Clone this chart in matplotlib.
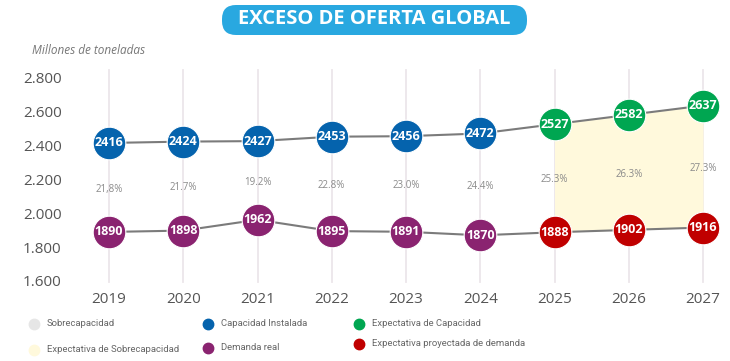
import matplotlib
matplotlib.use("Agg")
import matplotlib.pyplot as plt
from matplotlib.patches import FancyBboxPatch

years = [2019, 2020, 2021, 2022, 2023, 2024, 2025, 2026, 2027]
capacity = [2416, 2424, 2427, 2453, 2456, 2472, 2527, 2582, 2637]
demand = [1890, 1898, 1962, 1895, 1891, 1870, 1888, 1902, 1916]
overcap = ["21,8%", "21.7%", "19.2%", "22.8%", "23.0%", "24.4%", "25.3%", "26.3%", "27.3%"]
first_forecast = 2025
y_ticks = [1600, 1800, 2000, 2200, 2400, 2600, 2800]
y_tick_labels = ["1.600", "1.800", "2.000", "2.200", "2.400", "2.600", "2.800"]

BLUE = "#0563ad"
PURPLE = "#8a2370"
GREEN = "#00a651"
RED = "#c00000"
FILL = "#fff9dc"
LINE = "#7b7b7b"
TXT = "#555555"

plt.rcParams["font.family"] = ["Open Sans", "DejaVu Sans"]
NARROW = ["Roboto", "DejaVu Sans"]

fig = plt.figure(figsize=(7.3, 3.61), dpi=100)

# overlay in pixel coordinates for the title badge
over = fig.add_axes([0, 0, 1, 1], zorder=-1)
over.set_xlim(0, 730)
over.set_ylim(361, 0)
over.axis("off")
over.add_patch(FancyBboxPatch((222, 5), 305, 30, boxstyle="round,pad=0,rounding_size=14",
                              facecolor="#29a8e0", edgecolor="none"))
over.text(374, 19.5, "EXCESO DE OFERTA GLOBAL", fontsize=14.5, fontweight="bold",
          color="white", ha="center", va="center")

ax = fig.add_axes([109 / 730, 1 - 281 / 361, 594 / 730, 203 / 361])
ax.set_xlim(2019, 2027)
ax.set_ylim(1600, 2800)
ax.patch.set_alpha(0)
for s in ax.spines.values():
    s.set_visible(False)

# vertical guide lines
for yr in years:
    ax.plot([yr, yr], [1595, 2850], color="#ece6ea", lw=1.3, zorder=0, clip_on=False)

# forecast band
fc = [i for i, yr in enumerate(years) if yr >= first_forecast]
ax.fill_between([years[i] for i in fc], [demand[i] for i in fc], [capacity[i] for i in fc],
                color=FILL, lw=0, zorder=1)

ax.plot(years, capacity, color=LINE, lw=1.5, zorder=2, clip_on=False)
ax.plot(years, demand, color=LINE, lw=1.5, zorder=2, clip_on=False)

for yr, c, d, p in zip(years, capacity, demand, overcap):
    cc = GREEN if yr >= first_forecast else BLUE
    dc = RED if yr >= first_forecast else PURPLE
    ax.plot(yr, c, "o", ms=23.5, color=cc, mec="white", mew=0.8, zorder=3, clip_on=False)
    ax.plot(yr, d, "o", ms=23.5, color=dc, mec="white", mew=0.8, zorder=3, clip_on=False)
    ax.text(yr, c, str(c), color="white", fontsize=9, fontweight="bold",
            ha="center", va="center", zorder=4)
    ax.text(yr, d, str(d), color="white", fontsize=9, fontweight="bold",
            ha="center", va="center", zorder=4)
    ax.text(yr, (c + d) / 2 - 10, p, color="#8a8a8a", fontsize=7,
            ha="center", va="center", zorder=4)

ax.set_xticks(years)
ax.set_xticklabels([str(y) for y in years])
ax.set_yticks(y_ticks)
ax.set_yticklabels(y_tick_labels)
ax.tick_params(axis="x", length=0, pad=8, labelsize=11, labelcolor=TXT)
ax.tick_params(axis="y", length=0, pad=34, labelsize=11, labelcolor=TXT)

fig.text(32 / 730, 1 - 50 / 361, "Millones de toneladas", fontsize=8.5, style="italic",
         color="#777777", ha="left", va="center")

# legend
legend = [
    (34, 324, "#e6e6e6", "Sobrecapacidad"),
    (34, 350, FILL, "Expectativa de Sobrecapacidad"),
    (208, 324, BLUE, "Capacidad Instalada"),
    (208, 348, PURPLE, "Demanda real"),
    (359, 324, GREEN, "Expectativa de Capacidad"),
    (359, 344, RED, "Expectativa proyectada de demanda"),
]
for x, y, col, lab in legend:
    fig.lines.append(plt.Line2D([x / 730], [1 - y / 361], marker="o", ms=7.5, color=col,
                                lw=0, transform=fig.transFigure))
    fig.text((x + 13) / 730, 1 - y / 361, lab, fontsize=6.8, color="#666666",
             ha="left", va="center", family=NARROW)

fig.savefig("out.png", dpi=100)
